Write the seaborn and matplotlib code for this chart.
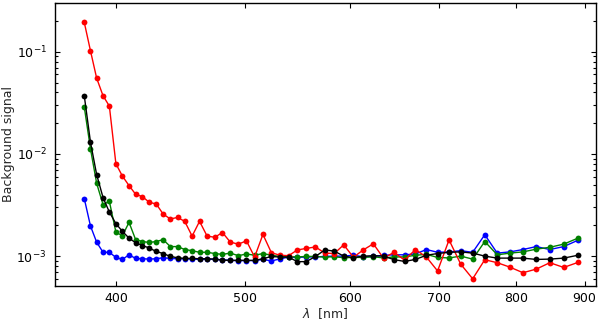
import numpy as np
import pandas as pd
import matplotlib
matplotlib.use("Agg")
import matplotlib.pyplot as plt
import matplotlib.ticker as mticker
import seaborn as sns

wavelength = [378.7, 382.8, 386.9, 391.2, 395.5, 400.0, 404.5, 409.2, 413.9, 418.8,
              423.8, 428.9, 434.1, 439.5, 445.0, 450.6, 456.4, 462.3, 468.4, 474.6,
              481.0, 487.6, 494.4, 501.4, 508.5, 515.9, 523.5, 531.3, 539.3, 547.6,
              556.2, 565.0, 574.2, 583.6, 593.3, 603.3, 613.7, 624.5, 635.6, 647.2,
              659.2, 671.6, 684.6, 697.9, 711.9, 726.4, 741.6, 757.3, 773.8, 791.0,
              809.0, 827.8, 847.5, 868.1, 889.8]

red = [0.194, 0.102, 0.0552, 0.0371, 0.0294, 0.00802, 0.00608, 0.00490, 0.00403, 0.00382,
       0.00336, 0.00324, 0.00258, 0.00231, 0.00239, 0.00219, 0.00157, 0.00219, 0.00157, 0.00153,
       0.00170, 0.00137, 0.00131, 0.00141, 0.00098, 0.00163, 0.00108, 0.00102, 0.00101, 0.00115,
       0.00119, 0.00123, 0.00107, 0.00106, 0.00129, 0.000975, 0.00115, 0.00132, 0.000953, 0.00109,
       0.000913, 0.00116, 0.000978, 0.000716, 0.00144, 0.000835, 0.000600, 0.000922, 0.000862, 0.000780,
       0.000688, 0.000746, 0.000862, 0.000775, 0.000868]

black = [0.0371, 0.0130, 0.00628, 0.00374, 0.00270, 0.00208, 0.00175, 0.00150, 0.00135, 0.00127,
         0.00120, 0.00111, 0.00106, 0.000993, 0.000964, 0.000949, 0.000949, 0.000943, 0.000943, 0.000935,
         0.000914, 0.000908, 0.000908, 0.000908, 0.000908, 0.000943, 0.000993, 0.000978, 0.000978, 0.000882,
         0.000884, 0.000993, 0.00115, 0.00112, 0.00100, 0.000967, 0.000998, 0.00101, 0.00100, 0.000924,
         0.000887, 0.000928, 0.00102, 0.00106, 0.00109, 0.00110, 0.00107, 0.00100, 0.000956, 0.000956,
         0.000956, 0.000928, 0.000935, 0.000956, 0.00102]

green = [0.0289, 0.0112, 0.00516, 0.00319, 0.00344, 0.00172, 0.00158, 0.00214, 0.00145, 0.00139,
         0.00136, 0.00139, 0.00145, 0.00124, 0.00124, 0.00116, 0.00113, 0.00109, 0.00109, 0.00106,
         0.00104, 0.00107, 0.00101, 0.00105, 0.00102, 0.00106, 0.00102, 0.000993, 0.000986, 0.000982,
         0.000993, 0.000993, 0.000978, 0.000986, 0.000964, 0.000971, 0.000971, 0.000986, 0.000960, 0.000982,
         0.000982, 0.00102, 0.00104, 0.000971, 0.000960, 0.00100, 0.000935, 0.00139, 0.00103, 0.00107,
         0.00110, 0.00117, 0.00122, 0.00131, 0.00150]

blue = [0.00366, 0.00197, 0.00137, 0.00109, 0.00109, 0.000971, 0.000928, 0.00103, 0.000949, 0.000943,
        0.000935, 0.000943, 0.000964, 0.000949, 0.000943, 0.000943, 0.000935, 0.000928, 0.000935, 0.000928,
        0.000921, 0.000908, 0.000905, 0.000905, 0.000905, 0.000928, 0.000897, 0.000939, 0.000978, 0.000971,
        0.000982, 0.000982, 0.000993, 0.00100, 0.00100, 0.00102, 0.000986, 0.000993, 0.00102, 0.00103,
        0.00103, 0.00105, 0.00116, 0.00109, 0.00110, 0.00113, 0.00109, 0.00162, 0.00107, 0.00110,
        0.00116, 0.00124, 0.00116, 0.00124, 0.00143]

x_ticks = [400, 500, 600, 700, 800, 900]

sns.set_style("ticks", {
    "xtick.direction": "in", "ytick.direction": "in",
    "axes.edgecolor": "black",
})
plt.rcParams["font.family"] = ["DejaVu Sans"]

fig = plt.figure(figsize=(6.0, 3.21), dpi=100)
ax = fig.add_axes([55 / 600, 35 / 321, 541 / 600, 283 / 321])

series = [("blue", blue, "#0000ff"), ("green", green, "#008000"),
          ("red", red, "#ff0000"), ("black", black, "#000000")]
for name, vals, col in series:
    df = pd.DataFrame({"wl": wavelength, "sig": vals})
    sns.lineplot(data=df, x="wl", y="sig", ax=ax, color=col, marker="o",
                 markersize=4.2, markeredgewidth=0, linewidth=1.0,
                 estimator=None, sort=False)

ax.set_xscale("log")
ax.set_yscale("log")
ax.set_xlim(360, 918)
ax.set_ylim(5.1e-4, 0.30)

ax.xaxis.set_major_locator(mticker.FixedLocator(x_ticks))
ax.xaxis.set_major_formatter(mticker.FixedFormatter([str(t) for t in x_ticks]))
ax.xaxis.set_minor_locator(mticker.NullLocator())
ax.yaxis.set_major_locator(mticker.LogLocator(base=10))
ax.yaxis.set_minor_locator(mticker.LogLocator(base=10, subs=np.arange(2, 10)))
ax.yaxis.set_minor_formatter(mticker.NullFormatter())

ax.tick_params(which="both", direction="in", top=True, right=True,
               labelsize=9, colors="black", width=0.8)
ax.tick_params(which="major", length=3.5)
ax.tick_params(which="minor", length=2)
ax.tick_params(axis="y", which="major", pad=6)
ax.tick_params(axis="x", which="major", pad=4)

for sp in ax.spines.values():
    sp.set_visible(True)
    sp.set_linewidth(1.0)
    sp.set_color("black")

ax.set_xlabel(r"$\lambda$  [nm]", fontsize=9, labelpad=1)
ax.set_ylabel("Background signal", fontsize=9)
ax.yaxis.set_label_coords(-0.074, 0.5)

fig.savefig("out.png", dpi=100)
